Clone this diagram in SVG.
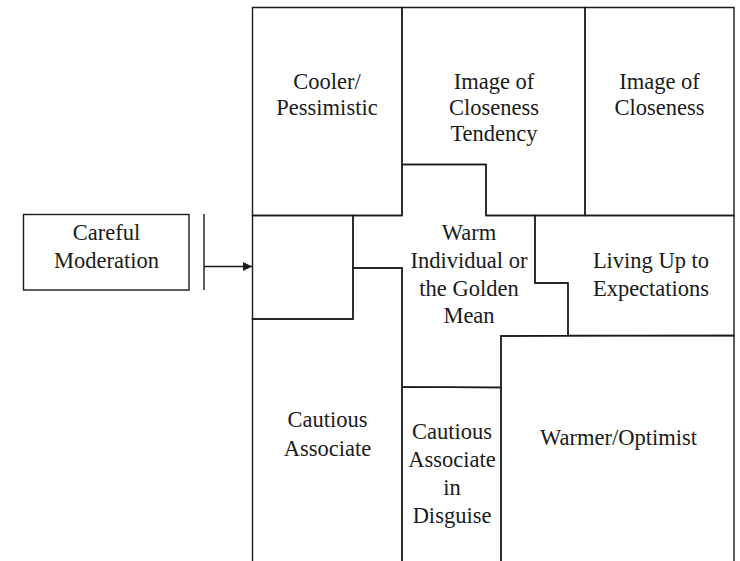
<svg xmlns="http://www.w3.org/2000/svg" width="740" height="561" viewBox="0 0 740 561">
<style>
.r{fill:none;stroke:#1a1a1a;stroke-width:1.4;stroke-linejoin:miter}
.t{font-family:"Liberation Serif","Times New Roman",serif;font-size:22.5px;fill:#1a1a1a;text-anchor:middle}
.c{stroke:#1a1a1a;stroke-width:1.4;fill:none}
</style>
<defs>
<marker id="ah" viewBox="0 0 10 10" refX="10" refY="5" markerWidth="9" markerHeight="9" markerUnits="userSpaceOnUse" orient="auto">
<path d="M0,0 L10,5 L0,10 z" fill="#1a1a1a"/>
</marker>
</defs>
<rect width="740" height="561" fill="#fff"/>
<g id="cooler">
<polygon class="r" points="252.5,7.5 402,7.5 402,215.5 252.5,215.5"/>
<text class="t" x="327" y="89">Cooler/</text>
<text class="t" x="327" y="115">Pessimistic</text>
</g>
<g id="image-tendency">
<polygon class="r" points="402,7.5 585,7.5 585,215.5 486,215.5 486,164.5 402,164.5"/>
<text class="t" x="494" y="89">Image of</text>
<text class="t" x="494" y="115">Closeness</text>
<text class="t" x="494" y="141">Tendency</text>
</g>
<g id="image-closeness">
<polygon class="r" points="585,7.5 734,7.5 734,215.5 585,215.5"/>
<text class="t" x="659.5" y="89">Image of</text>
<text class="t" x="659.5" y="115">Closeness</text>
</g>
<g id="small-box">
<polygon class="r" points="252.5,215.5 353,215.5 353,319 252.5,319"/>
</g>
<g id="warm">
<polygon class="r" points="402,164.5 486,164.5 486,215.5 535,215.5 535,283 568,283 568,335.5 501,336 501,387.5 402,387 402,268 353,268 353,215.5 402,215.5"/>
<text class="t" x="469" y="240">Warm</text>
<text class="t" x="469" y="267.5">Individual or</text>
<text class="t" x="469" y="295.5">the Golden</text>
<text class="t" x="469" y="323">Mean</text>
</g>
<g id="living-up">
<polygon class="r" points="535,215.5 734,215.5 734,335.5 568,335.5 568,283 535,283"/>
<text class="t" x="651" y="267.5">Living Up to</text>
<text class="t" x="651" y="295.5">Expectations</text>
</g>
<g id="cautious-associate">
<polygon class="r" points="252.5,319 353,319 353,268 402,268 402,563 252.5,563"/>
<text class="t" x="327.5" y="427">Cautious</text>
<text class="t" x="327.5" y="456">Associate</text>
</g>
<g id="cautious-disguise">
<polygon class="r" points="402,387 501,387.5 501,563 402,563"/>
<text class="t" x="452" y="439">Cautious</text>
<text class="t" x="452" y="467">Associate</text>
<text class="t" x="452" y="495">in</text>
<text class="t" x="452" y="523">Disguise</text>
</g>
<g id="warmer-optimist">
<polygon class="r" points="501,336 734,335.5 734,563 501,563"/>
<text class="t" x="618.5" y="445">Warmer/Optimist</text>
</g>
<g id="careful-moderation">
<rect class="r" x="23.5" y="214.5" width="165.5" height="75.5"/>
<text class="t" x="106.5" y="240">Careful</text>
<text class="t" x="106.5" y="268">Moderation</text>
</g>
<g id="connectors">
<line class="c" x1="204" y1="214" x2="204" y2="290"/>
<line class="c" x1="204" y1="266.5" x2="252" y2="266.5" marker-end="url(#ah)"/>
</g>
</svg>
